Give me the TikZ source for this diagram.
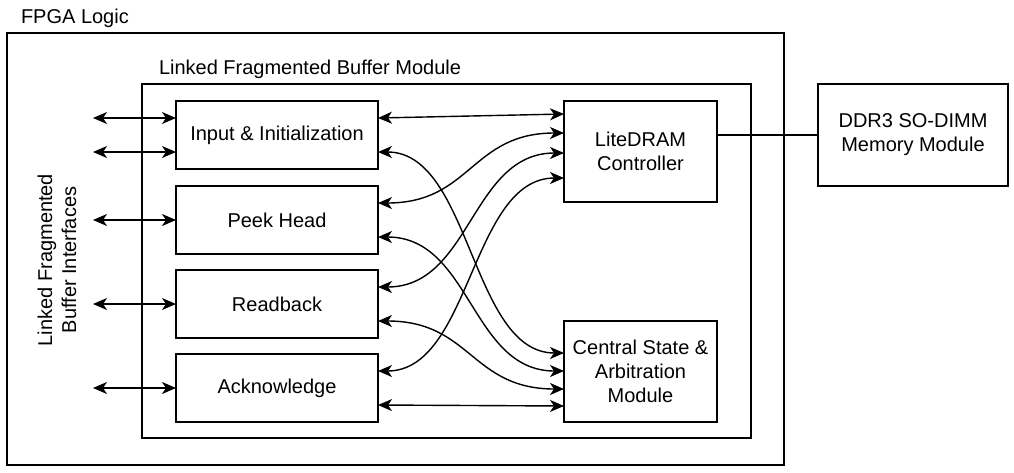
\documentclass[tikz,border=0pt]{standalone}
\usepackage{fontspec}
\setmainfont{Liberation Sans}
\usetikzlibrary{arrows.meta,calc}
\begin{document}
\begin{tikzpicture}[x=1pt,y=-1pt,
  font=\fontsize{20}{24}\selectfont,
  every node/.style={inner sep=0pt, outer sep=0pt},
  frame/.style={draw, line width=1.5pt},
  block/.style={draw, line width=1.5pt, align=center, minimum width=202pt, minimum height=68pt},
  sidebox/.style={draw, line width=1.5pt, align=center, minimum width=153pt, minimum height=101pt},
  tip/.style={Stealth[length=14pt, width=12pt, inset=4pt]},
  link/.style={line width=1.4pt, {Stealth[length=14pt, width=12pt, inset=4pt]}-{Stealth[length=14pt, width=12pt, inset=4pt]}},
  plain/.style={line width=1.4pt}
]
\useasboundingbox (0,0) rectangle (1014,472);

% containers
\node[frame, minimum width=777pt, minimum height=432pt] (fpga) at (395.5,249) {};
\node[anchor=base west] (fpgatitle) at (21,23) {FPGA Logic};
\node[frame, minimum width=609pt, minimum height=354pt] (lfb) at (446.5,261) {};
\node[anchor=base west] (lfbtitle) at (159,74) {Linked Fragmented Buffer Module};

% pipeline stages
\node[block] (inp)  at (277,135) {Input \& Initialization};
\node[block] (peek) at (277,220) {Peek Head};
\node[block] (rb)   at (277,304) {Readback};
\node[block] (ack)  at (277,388) {Acknowledge};

% shared resources
\node[sidebox] (dram) at (640.5,151.5) {LiteDRAM\\Controller};
\node[sidebox] (csa)  at (640.5,371.5) {Central State \&\\Arbitration\\Module};
\node[draw, line width=1.5pt, align=center, minimum width=190pt, minimum height=102pt] (ddr) at (913,135) {DDR3 SO-DIMM\\Memory Module};

% external interface label
\node[rotate=90, align=center] (iflabel) at (57,260) {Linked Fragmented\\Buffer Interfaces};

% external interface ports
\coordinate (p1) at (93,118);
\coordinate (p2) at (93,152);
\coordinate (p3) at (93,220);
\coordinate (p4) at (93,304);
\coordinate (p5) at (93,388);
\draw[link] (p1) -- (p1 -| inp.west);
\draw[link] (p2) -- (p2 -| inp.west);
\draw[link] (p3) -- (p3 -| peek.west);
\draw[link] (p4) -- (p4 -| rb.west);
\draw[link] (p5) -- (p5 -| ack.west);

% stage <-> controller / central state
\draw[link] ([yshift=-17pt]inp.north east) -- ([yshift=-13pt]dram.north west);
\draw[link] ([yshift=-51pt]inp.north east) .. controls +(93,0) and +(-93,0) .. ([yshift=-32pt]csa.north west);
\draw[link] ([yshift=-17pt]peek.north east) .. controls +(93,0) and +(-93,0) .. ([yshift=-32pt]dram.north west);
\draw[link] ([yshift=-51pt]peek.north east) .. controls +(93,0) and +(-93,0) .. ([yshift=-50pt]csa.north west);
\draw[link] ([yshift=-17pt]rb.north east) .. controls +(93,0) and +(-93,0) .. ([yshift=-52pt]dram.north west);
\draw[link] ([yshift=-51pt]rb.north east) .. controls +(93,0) and +(-93,0) .. ([yshift=-68pt]csa.north west);
\draw[link] ([yshift=-17pt]ack.north east) .. controls +(93,0) and +(-93,0) .. ([yshift=-77pt]dram.north west);
\draw[link] ([yshift=-51pt]ack.north east) -- ([yshift=-85pt]csa.north west);

% controller to memory
\draw[plain] (ddr.west -| dram.east) -- (ddr.west);
\end{tikzpicture}
\end{document}
